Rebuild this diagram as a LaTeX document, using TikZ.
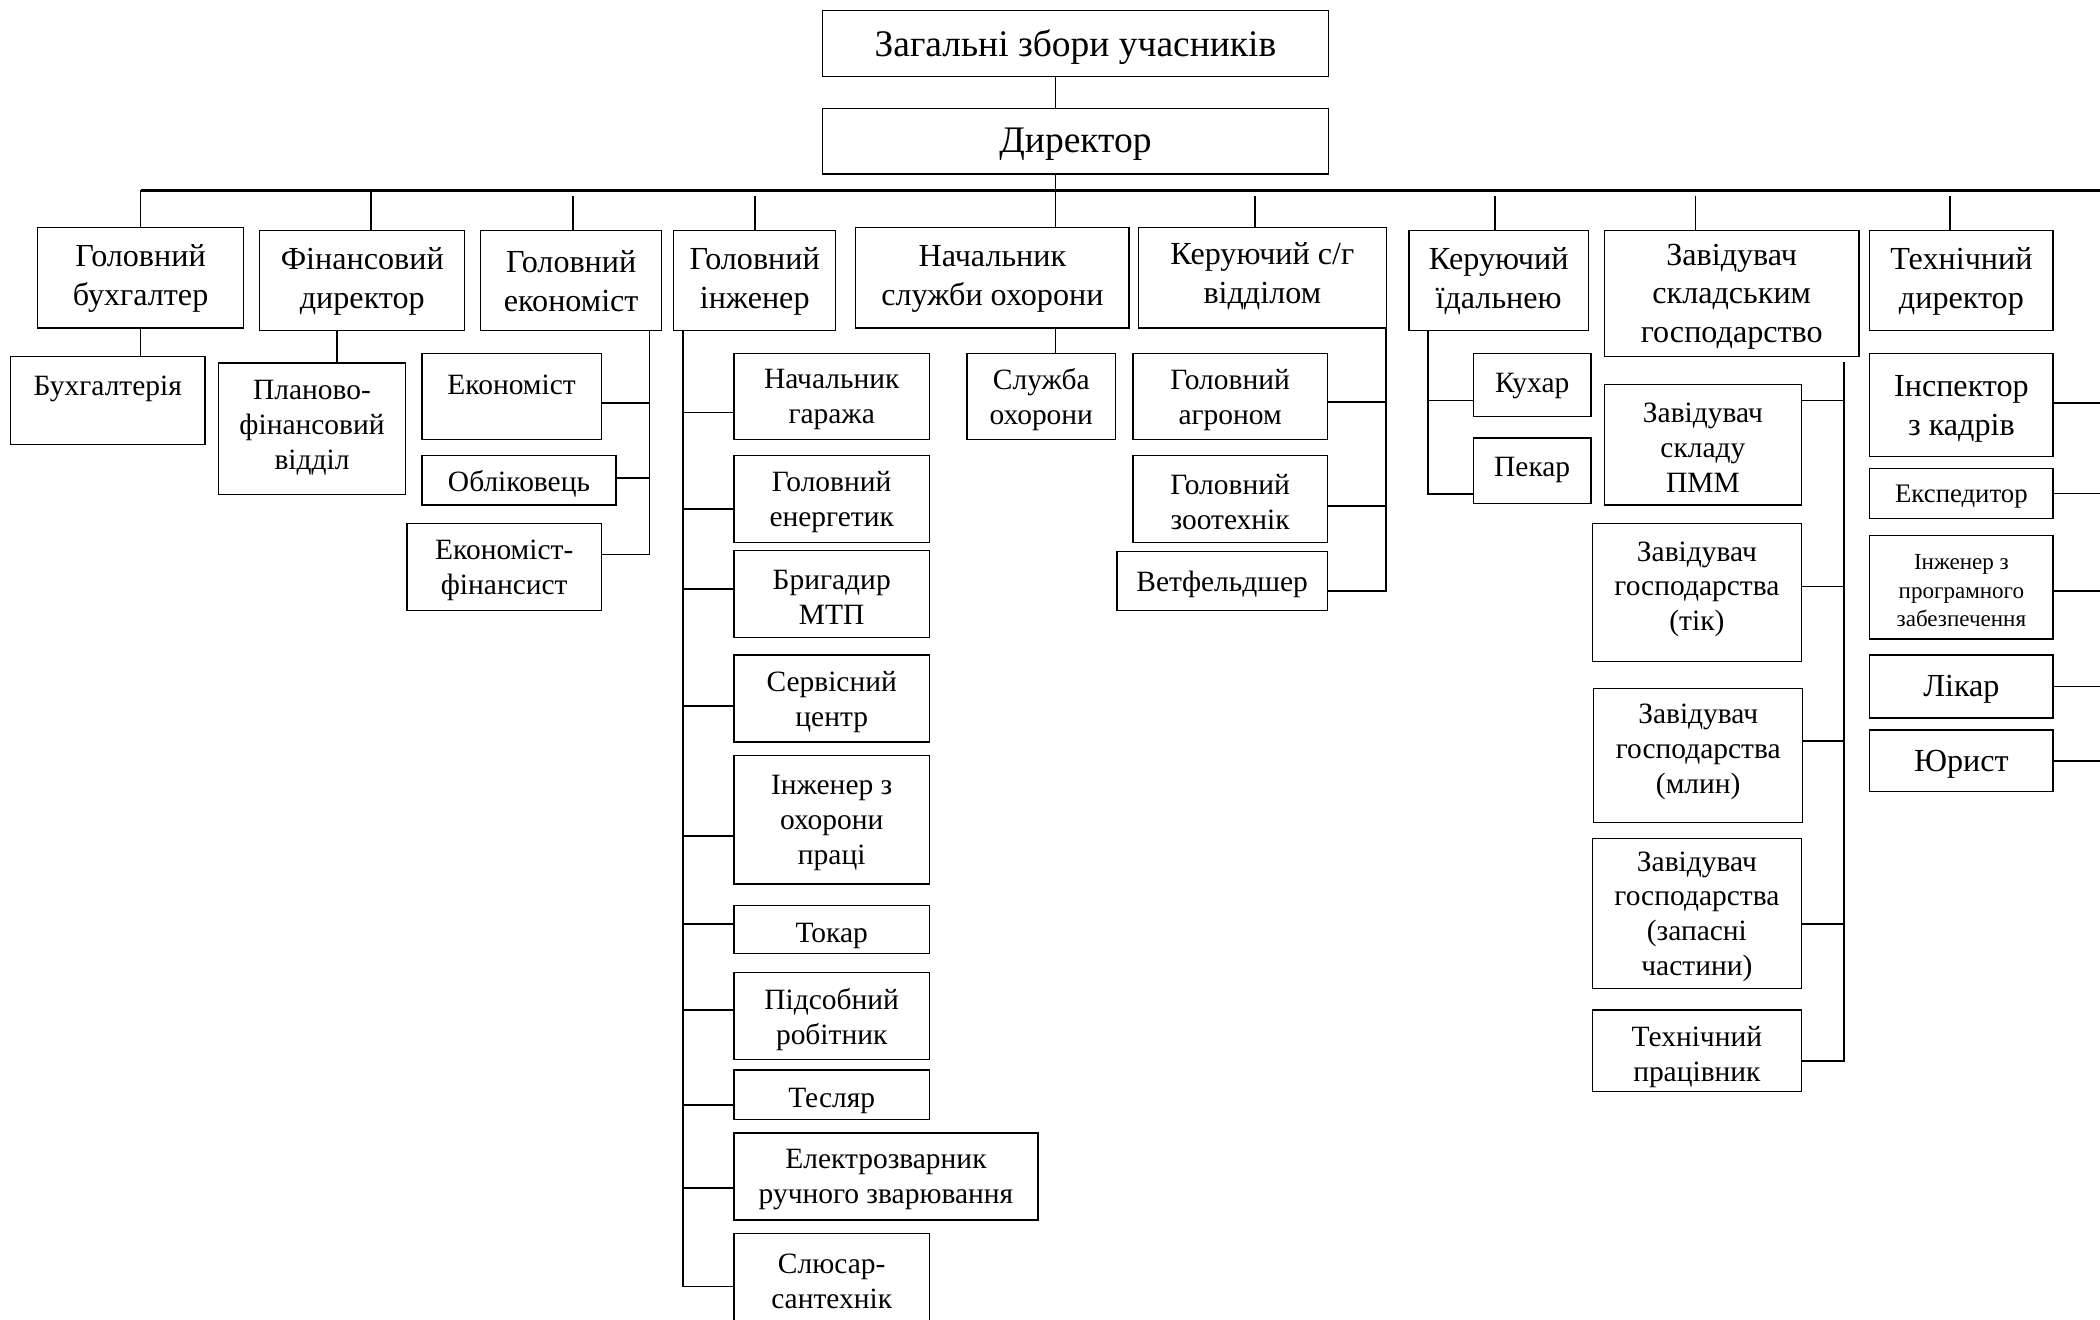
\documentclass[tikz,border=0pt]{standalone}
\usepackage{fontspec}
\setmainfont{Liberation Serif}
% #1 name, #2 left, #3 top, #4 right, #5 bottom, #6 label style, #7 text
\newcommand{\orgbox}[7]{%
  \node[box, minimum width={#4-#2}, minimum height={#5-#3}] (#1) at ({(#2+#4)/2},{(#3+#5)/2}) {};
  \node[lbl, #6] (#1-t) at (#1.center) {#7};
}
\begin{document}
\begin{tikzpicture}[x=1pt,y=-1pt,
  box/.style={draw, line width=1pt, rectangle, inner sep=0pt, outer sep=0pt},
  lbl/.style={align=center, inner sep=0pt, yshift=-2.5pt},
  fA/.style={font=\fontsize{28}{32}\selectfont},
  fB/.style={font=\fontsize{24}{29}\selectfont},
  fC/.style={font=\fontsize{22}{26}\selectfont},
  fD/.style={font=\fontsize{20}{23}\selectfont},
  fE/.style={font=\fontsize{17.2}{21}\selectfont},
  link/.style={line width=1.3pt},
  bus/.style={line width=2pt}]

\useasboundingbox (0,0) rectangle (1568,985);
\clip (0,0) rectangle (1568,985);

% top management
\orgbox{gen}{614}{8}{992}{57}{fA}{Загальні збори учасників}
\orgbox{dir}{614}{81}{992}{130}{fA}{Директор}

% second level
\orgbox{buh}{28}{170}{182}{245}{fB, yshift=2pt}{Головний\\бухгалтер}
\orgbox{fin}{194}{172}{347}{247}{fB, yshift=2pt}{Фінансовий\\директор}
\orgbox{econ}{359}{172}{494}{247}{fB, yshift=2pt}{Головний\\економіст}
\orgbox{eng}{503}{172}{624}{247}{fB, yshift=2pt}{Головний\\інженер}
\orgbox{ohor}{639}{170}{843}{245}{fB, yshift=2pt}{Начальник\\служби охорони}
\orgbox{agr}{850}{170}{1035}{245}{fB, yshift=4pt}{Керуючий с/г\\відділом}
\orgbox{kant}{1052}{172}{1186}{247}{fB, yshift=2pt}{Керуючий\\їдальнею}
\orgbox{sklad}{1198}{172}{1388}{266}{fB}{Завідувач\\складським\\господарство}
\orgbox{tech}{1396}{172}{1533}{247}{fB, yshift=2pt}{Технічний\\директор}

% accounting, finance, economics
\orgbox{buhg}{8}{266}{153}{332}{fC, yshift=11pt}{Бухгалтерія}
\orgbox{plan}{163}{271}{303}{369}{fC, yshift=3pt}{Планово-\\фінансовий\\відділ}
\orgbox{ec1}{315}{264}{449}{328}{fC, yshift=11pt}{Економіст}
\orgbox{ec2}{315}{340}{460}{377}{fC}{Обліковець}
\orgbox{ec3}{304}{391}{449}{456}{fC}{Економіст-\\фінансист}

% engineering
\orgbox{en1}{548}{264}{694}{328}{fC}{Начальник\\гаража}
\orgbox{en2}{548}{340}{694}{405}{fC}{Головний\\енергетик}
\orgbox{en3}{548}{411}{694}{476}{fC}{Бригадир\\МТП}
\orgbox{en4}{548}{489}{694}{554}{fC}{Сервісний\\центр}
\orgbox{en5}{548}{564}{694}{660}{fC}{Інженер з\\охорони\\праці}
\orgbox{en6}{548}{676}{694}{712}{fC, yshift=-2pt}{Токар}
\orgbox{en7}{548}{726}{694}{791}{fC}{Підсобний\\робітник}
\orgbox{en8}{548}{799}{694}{836}{fC, yshift=-2pt}{Тесляр}
\orgbox{en9}{548}{846}{775}{911}{fC}{Електрозварник\\ручного зварювання}
\orgbox{en10}{548}{921}{694}{1000}{fC, yshift=6.5pt}{Слюсар-\\сантехнік}

% security, agriculture, canteen
\orgbox{sl}{722}{264}{833}{328}{fC}{Служба\\охорони}
\orgbox{ag1}{846}{264}{991}{328}{fC}{Головний\\агроном}
\orgbox{ag2}{846}{340}{991}{405}{fC}{Головний\\зоотехнік}
\orgbox{ag3}{834}{412}{991}{456}{fC}{Ветфельдшер}
\orgbox{ka1}{1100}{264}{1188}{311}{fC, yshift=2pt}{Кухар}
\orgbox{ka2}{1100}{327}{1188}{376}{fC, yshift=3pt}{Пекар}

% storage
\orgbox{sk1}{1198}{287}{1345}{377}{fC}{Завідувач\\складу\\ПММ}
\orgbox{sk2}{1189}{391}{1345}{494}{fC, yshift=5pt}{Завідувач\\господарства\\(тік)}
\orgbox{sk3}{1190}{514}{1346}{614}{fC, yshift=5pt}{Завідувач\\господарства\\(млин)}
\orgbox{sk4}{1189}{626}{1345}{738}{fC}{Завідувач\\господарства\\(запасні\\частини)}
\orgbox{sk5}{1189}{754}{1345}{815}{fC, yshift=-2pt}{Технічний\\працівник}

% technical director's staff
\orgbox{te1}{1396}{264}{1533}{341}{fB}{Інспектор\\з кадрів}
\orgbox{te2}{1396}{350}{1533}{387}{fD}{Експедитор}
\orgbox{te3}{1396}{400}{1533}{477}{fE}{Інженер з\\програмного\\забезпечення}
\orgbox{te4}{1396}{489}{1533}{536}{fB}{Лікар}
\orgbox{te5}{1396}{545}{1533}{591}{fB}{Юрист}

% reference points for the connector lines
\coordinate (busL) at (105,142);
\coordinate (busR) at (1568,142);
\coordinate (busG) at (0,146);
\coordinate (trunk) at (788,0);
\coordinate (rim) at (1568,0);
\coordinate (econV) at (485,0);
\coordinate (engV) at (510,0);
\coordinate (kantV) at (1066,0);
\coordinate (skV) at (1377,270);

% main trunk and bus
\draw[link] (gen.south -| trunk) -- (dir.north -| trunk);
\draw[bus] (busL) -- (busR);
\draw[link] (dir.south -| trunk) -- (ohor.north -| trunk);
\draw[link] (ohor.south -| trunk) -- (sl.north -| trunk);

% drops to the second level
\draw[link] (buh.north) -- (buh.north |- busL);
\draw[link] ([xshift=6.5pt]fin.north) -- ([xshift=6.5pt]fin.north |- busL);
\draw[link] ([xshift=1.5pt]econ.north) -- ([xshift=1.5pt]econ.north |- busG);
\draw[link] (eng.north) -- (eng.north |- busG);
\draw[link] ([xshift=-5.5pt]agr.north) -- ([xshift=-5.5pt]agr.north |- busG);
\draw[link] ([xshift=-3pt]kant.north) -- ([xshift=-3pt]kant.north |- busG);
\draw[link] ([xshift=-27pt]sklad.north) -- ([xshift=-27pt]sklad.north |- busG);
\draw[link] ([xshift=-8.5pt]tech.north) -- ([xshift=-8.5pt]tech.north |- busG);

% accounting and finance
\draw[link] (buh.south) -- (buh.south |- buhg.north);
\draw[link] ([xshift=-19pt]fin.south) -- ([xshift=-19pt]fin.south |- plan.north);

% economics
\draw[link] (econ.south -| econV) |- ([yshift=9.5pt]ec3.east);
\draw[link] ([yshift=-5pt]ec1.east) -- ([yshift=-5pt]ec1.east -| econV);
\draw[link] ([yshift=1.5pt]ec2.east) -- ([yshift=1.5pt]ec2.east -| econV);

% engineering
\draw[link] (eng.south -| engV) |- (en10.west);
\draw[link] ([yshift=-12pt]en1.west) -- ([yshift=-12pt]en1.west -| engV);
\draw[link] ([yshift=-7.5pt]en2.west) -- ([yshift=-7.5pt]en2.west -| engV);
\draw[link] ([yshift=3.5pt]en3.west) -- ([yshift=3.5pt]en3.west -| engV);
\draw[link] ([yshift=-5.5pt]en4.west) -- ([yshift=-5.5pt]en4.west -| engV);
\draw[link] ([yshift=-12pt]en5.west) -- ([yshift=-12pt]en5.west -| engV);
\draw[link] ([yshift=4pt]en6.west) -- ([yshift=4pt]en6.west -| engV);
\draw[link] ([yshift=4.5pt]en7.west) -- ([yshift=4.5pt]en7.west -| engV);
\draw[link] ([yshift=-7.5pt]en8.west) -- ([yshift=-7.5pt]en8.west -| engV);
\draw[link] ([yshift=-8.5pt]en9.west) -- ([yshift=-8.5pt]en9.west -| engV);

% agriculture
\draw[link] (agr.south east) |- ([yshift=-7pt]ag3.east);
\draw[link] ([yshift=-4pt]ag1.east) -- ([yshift=-4pt]ag1.east -| agr.south east);
\draw[link] ([yshift=-5.5pt]ag2.east) -- ([yshift=-5.5pt]ag2.east -| agr.south east);

% canteen
\draw[link] (kant.south -| kantV) |- ([yshift=-17.5pt]ka2.west);
\draw[link] ([yshift=-11.5pt]ka1.west) -- ([yshift=-11.5pt]ka1.west -| kantV);

% storage
\draw[link] (skV) |- ([yshift=-7.5pt]sk5.east);
\draw[link] ([yshift=33pt]sk1.east) -- ([yshift=33pt]sk1.east -| skV);
\draw[link] ([yshift=4.5pt]sk2.east) -- ([yshift=4.5pt]sk2.east -| skV);
\draw[link] ([yshift=11pt]sk3.east) -- ([yshift=11pt]sk3.east -| skV);
\draw[link] ([yshift=-8pt]sk4.east) -- ([yshift=-8pt]sk4.east -| skV);

% technical director's staff, running off to the right
\draw[link] ([yshift=1.5pt]te1.east) -- ([yshift=1.5pt]te1.east -| rim);
\draw[link] (te2.east) -- (te2.east -| rim);
\draw[link] ([yshift=-2.5pt]te3.east) -- ([yshift=-2.5pt]te3.east -| rim);
\draw[link] (te4.east) -- (te4.east -| rim);
\draw[link] (te5.east) -- (te5.east -| rim);
\end{tikzpicture}
\end{document}
